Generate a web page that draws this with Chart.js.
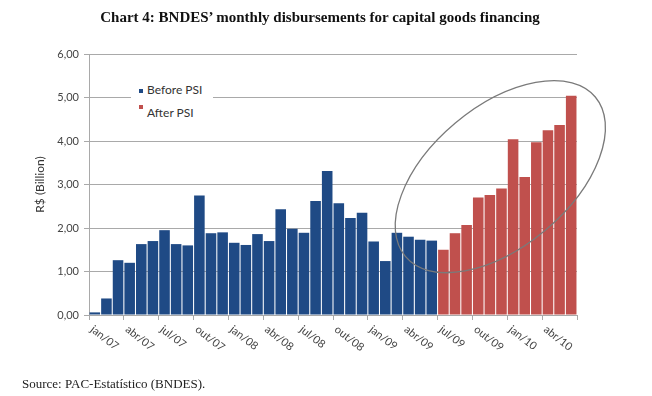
<!DOCTYPE html>
<html lang="en">
<head>
  <meta charset="UTF-8">
  <title>BNDES disbursements</title>
  <script src="https://cdn.jsdelivr.net/npm/chart.js"></script>
  <style>
    body { margin: 0; background: #fff; }
    #wrap { position: relative; width: 652px; height: 396px; }
    #chartTitle {
      position: absolute; left: 0; width: 652px; top: 9px; padding-left: 0;
      text-align: center; font: bold 15px "Liberation Serif", serif; color: #111;
      transform: translateX(-6px);
    }
    #source {
      position: absolute; left: 22px; top: 376px;
      font: 13px "Liberation Serif", serif; color: #222;
    }
    #legend {
      position: absolute; left: 131px; top: 79px; width: 82px; height: 44px;
      background: #fff; font: 12px Lato, sans-serif; color: #333;
    }
    .item { position: absolute; left: 8px; white-space: nowrap; }
    .box { position: absolute; width: 4px; height: 4px; left: 0; }
    .item span.txt { position: absolute; left: 8px; }
  </style>
</head>
<body>
  <div id="wrap">
    <canvas id="bndesChart" width="652" height="396"></canvas>
    <div id="chartTitle">Chart 4: BNDES’ monthly disbursements for capital goods financing</div>
    <div id="legend"></div>
    <div id="source">Source: PAC-Estatístico (BNDES).</div>
  </div>

  <script>
    // months jan/07 .. jun/10 (labels only every quarter)
    const months = [
      'jan/07','fev/07','mar/07','abr/07','mai/07','jun/07','jul/07','ago/07','set/07','out/07','nov/07','dez/07',
      'jan/08','fev/08','mar/08','abr/08','mai/08','jun/08','jul/08','ago/08','set/08','out/08','nov/08','dez/08',
      'jan/09','fev/09','mar/09','abr/09','mai/09','jun/09','jul/09','ago/09','set/09','out/09','nov/09','dez/09',
      'jan/10','fev/10','mar/10','abr/10','mai/10','jun/10'
    ];
    const tickLabels = ['jan/07','abr/07','jul/07','out/07','jan/08','abr/08','jul/08','out/08',
                        'jan/09','abr/09','jul/09','out/09','jan/10','abr/10'];

    // R$ billion
    const beforePSI = [
      0.06, 0.38, 1.26, 1.20, 1.63, 1.70, 1.95, 1.63, 1.60, 2.75, 1.88, 1.90,
      1.66, 1.61, 1.86, 1.70, 2.43, 1.98, 1.89, 2.62, 3.31, 2.57, 2.23, 2.35,
      1.69, 1.24, 1.89, 1.80, 1.73, 1.71
    ];
    const afterPSI = [1.50, 1.88, 2.07, 2.70, 2.76, 2.91, 4.04, 3.17, 3.97, 4.25, 4.37, 5.04];

    const yTicks = [0, 1, 2, 3, 4, 5, 6];

    const blue = '#1F4A85';
    const red = '#C0504D';
    const gridGray = '#A9A9A9';

    const beforeData = months.map((m, i) => i < beforePSI.length ? beforePSI[i] : null);
    const afterData = months.map((m, i) => i >= beforePSI.length ? afterPSI[i - beforePSI.length] : null);

    // legend built from the dataset names
    const legendItems = [
      { label: 'Before PSI', color: blue, boxTop: 10, textTop: 3 },
      { label: 'After PSI', color: red, boxTop: 26, textTop: 26 }
    ];
    const legendEl = document.getElementById('legend');
    legendItems.forEach(it => {
      const d = document.createElement('div');
      d.className = 'item';
      d.style.top = '0px';
      d.innerHTML = `<div class="box" style="top:${it.boxTop}px;background:${it.color}"></div>` +
                    `<span class="txt" style="top:${it.textTop}px">${it.label}</span>`;
      legendEl.appendChild(d);
    });

    // rotated quarter labels under the x axis, drawn down-right like Excel
    const quarterLabels = {
      id: 'quarterLabels',
      afterDraw(chart) {
        const x = chart.scales.x;
        const ctx = chart.ctx;
        const half = (x.getPixelForValue(1) - x.getPixelForValue(0)) / 2;
        ctx.save();
        ctx.font = '11px Lato, sans-serif';
        ctx.fillStyle = '#444';
        ctx.textAlign = 'left';
        ctx.textBaseline = 'middle';
        months.forEach((m, i) => {
          if (!tickLabels.includes(m)) return;
          const px = x.getPixelForValue(i) - half + 3;
          ctx.save();
          ctx.translate(px, x.top + 13);
          ctx.rotate(38 * Math.PI / 180);
          ctx.fillText(m, 0, 0);
          ctx.restore();
        });
        ctx.restore();
      }
    };

    // hand-drawn ellipse highlighting the post-PSI period
    const highlight = {
      id: 'highlight',
      afterDatasetsDraw(chart) {
        const { x, y } = chart.scales;
        const ctx = chart.ctx;
        const cx = x.getPixelForValue(34.9);
        const cy = y.getPixelForValue(3.18);
        ctx.save();
        ctx.strokeStyle = '#7a7a7a';
        ctx.lineWidth = 1.3;
        ctx.beginPath();
        ctx.ellipse(cx, cy, 124, 70, -40 * Math.PI / 180, 0, Math.PI * 2);
        ctx.stroke();
        ctx.restore();
      }
    };

    new Chart(document.getElementById('bndesChart'), {
      type: 'bar',
      data: {
        labels: months,
        datasets: [
          { label: 'Before PSI', data: beforeData, backgroundColor: blue },
          { label: 'After PSI', data: afterData, backgroundColor: red }
        ]
      },
      options: {
        responsive: false,
        animation: false,
        grouped: false,
        barPercentage: 0.91,
        categoryPercentage: 1.0,
        layout: { padding: { left: 0, top: 54, right: 75, bottom: 41 } },
        plugins: {
          legend: { display: false },
          tooltip: { enabled: false }
        },
        scales: {
          x: {
            grid: {
              offset: true,
              drawOnChartArea: false,
              tickLength: 5,
              color: ctx => (ctx.index === undefined || ctx.index % 3 === 0) ? gridGray : 'rgba(0,0,0,0)'
            },
            border: { color: gridGray },
            ticks: { display: false },
            afterFit: s => { s.height = 40; }
          },
          y: {
            min: 0,
            max: 6,
            afterBuildTicks: s => { s.ticks = yTicks.map(v => ({ value: v })); },
            ticks: {
              padding: 5,
              color: '#444',
              font: { family: 'Lato', size: 11 },
              callback: v => v.toFixed(2).replace('.', ',')
            },
            grid: { color: gridGray, tickLength: 5 },
            border: { color: gridGray },
            title: {
              display: true,
              text: 'R$ (Billion)',
              color: '#333',
              font: { family: 'Lato', size: 12 },
              padding: { top: 33, bottom: 0 }
            },
            afterFit: s => { s.width = 89; }
          }
        }
      },
      plugins: [highlight, quarterLabels]
    });
  </script>
</body>
</html>
